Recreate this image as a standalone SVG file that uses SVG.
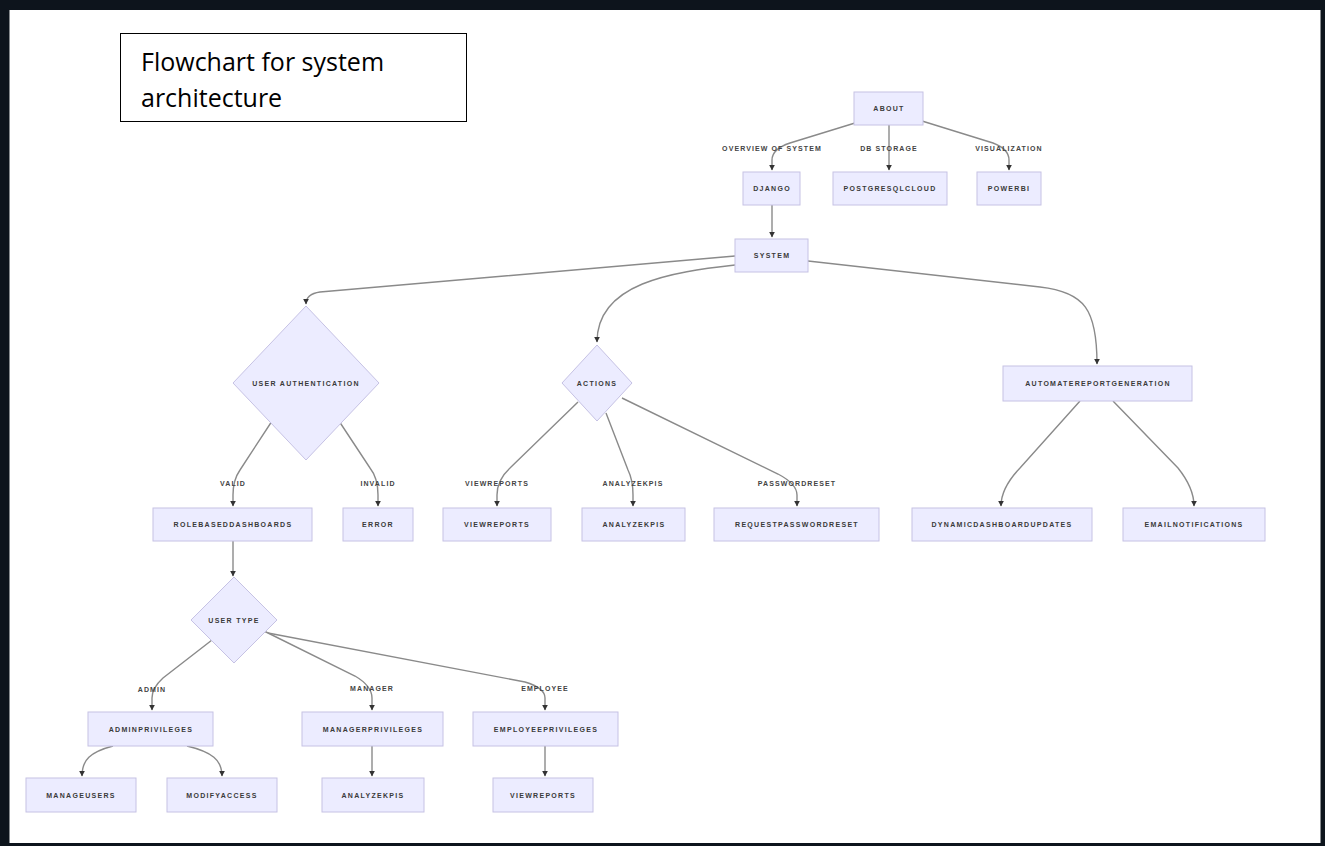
<svg xmlns="http://www.w3.org/2000/svg" width="1325" height="846" viewBox="0 0 1325 846">
<style>
.n{fill:#ECECFF;stroke:#c6c2e4;stroke-width:1}
.t{font-family:"Liberation Sans",Arial,sans-serif;font-size:7px;font-weight:bold;fill:#3a3a3a;letter-spacing:1.3px;text-anchor:middle;dominant-baseline:central}
.l{font-family:"Liberation Sans",Arial,sans-serif;font-size:7px;font-weight:bold;fill:#444;letter-spacing:1.1px;text-anchor:middle;dominant-baseline:central}
.e{fill:none;stroke:#8a8a8a;stroke-width:1.4;marker-end:url(#ah)}
.title{font-family:"Open Sans","Liberation Sans",sans-serif;font-size:25px;fill:#000}
</style>
<defs>
<marker id="ah" viewBox="0 0 10 10" refX="9" refY="5" markerWidth="6" markerHeight="6" markerUnits="userSpaceOnUse" orient="auto">
<path d="M0,0 L10,5 L0,10 z" fill="#333"/>
</marker>
</defs>
<rect x="0" y="0" width="1325" height="846" fill="#0d141c"/>
<rect x="9.5" y="10" width="1311" height="833" fill="#ffffff"/>

<g id="title">
<rect x="120.5" y="33.5" width="346" height="88" fill="#fff" stroke="#000" stroke-width="1"/>
<text class="title" x="141" y="71">Flowchart for system</text>
<text class="title" x="141" y="107">architecture</text>
</g>

<g id="connectors">
<path class="e" d="M855 123 L790 143 Q772 149 772 160 L772 170"/>
<path class="e" d="M889 125 L889 170"/>
<path class="e" d="M922 121 L993 143 Q1009 149 1009 160 L1009 170"/>
<path class="e" d="M772 205 L772 237"/>
<path class="e" d="M735 256 L320 292 Q306 294 306 304"/>
<path class="e" d="M735 265 C672 272 597 283 597 342"/>
<path class="e" d="M808 261 L1040 287 C1085 292 1097 310 1097 364"/>
<path class="e" d="M274 418 L240 470 Q233 480 233 495 L233 506"/>
<path class="e" d="M337 418 L370 468 Q378 478 378 495 L378 506"/>
<path class="e" d="M578 402 L510 468 Q497 480 497 495 L497 506"/>
<path class="e" d="M606 413 L628 470 Q633 480 633 495 L633 506"/>
<path class="e" d="M622 398 L778 474 Q797 484 797 495 L797 506"/>
<path class="e" d="M1080 401 L1020 468 Q1001 488 1001 506"/>
<path class="e" d="M1113 401 L1178 468 Q1194 488 1194 506"/>
<path class="e" d="M233 541 L233 576"/>
<path class="e" d="M212 640 L163 678 Q152 688 152 698 L152 710"/>
<path class="e" d="M262 630 L355 676 Q372 686 372 698 L372 710"/>
<path class="e" d="M268 633 L525 682 Q545 688 545 698 L545 710"/>
<path class="e" d="M113 746 C90 752 82 760 82 776"/>
<path class="e" d="M187 746 C212 752 222 760 222 776"/>
<path class="e" d="M372 746 L372 776"/>
<path class="e" d="M545 746 L545 776"/>
<text class="l" x="772" y="148">OVERVIEW OF SYSTEM</text>
<text class="l" x="889" y="148">DB STORAGE</text>
<text class="l" x="1009" y="148">VISUALIZATION</text>
<text class="l" x="233" y="483">VALID</text>
<text class="l" x="378" y="483">INVALID</text>
<text class="l" x="497" y="483">VIEWREPORTS</text>
<text class="l" x="633" y="483">ANALYZEKPIS</text>
<text class="l" x="797" y="483">PASSWORDRESET</text>
<text class="l" x="152" y="689">ADMIN</text>
<text class="l" x="372" y="688">MANAGER</text>
<text class="l" x="545" y="688">EMPLOYEE</text>
</g>

<g id="about"><rect class="n" x="854" y="92" width="69" height="33"/><text class="t" x="889" y="108.5">ABOUT</text></g>
<g id="django"><rect class="n" x="743" y="172" width="57" height="33"/><text class="t" x="772" y="188.5">DJANGO</text></g>
<g id="postgres"><rect class="n" x="833" y="172" width="114" height="33"/><text class="t" x="890" y="188.5">POSTGRESQLCLOUD</text></g>
<g id="powerbi"><rect class="n" x="977" y="172" width="64" height="33"/><text class="t" x="1009" y="188.5">POWERBI</text></g>
<g id="system"><rect class="n" x="735" y="239" width="73" height="33"/><text class="t" x="772" y="255.5">SYSTEM</text></g>
<g id="userauth"><path class="n" d="M306 306 L379 383 L306 460 L233 383 Z"/><text class="t" x="306" y="383">USER AUTHENTICATION</text></g>
<g id="actions"><path class="n" d="M597 345 L632 383 L597 421 L562 383 Z"/><text class="t" x="597" y="383">ACTIONS</text></g>
<g id="automate"><rect class="n" x="1003" y="366" width="189" height="35"/><text class="t" x="1098" y="383.5">AUTOMATEREPORTGENERATION</text></g>
<g id="rolebased"><rect class="n" x="153" y="508" width="159" height="33"/><text class="t" x="233" y="524.5">ROLEBASEDDASHBOARDS</text></g>
<g id="error"><rect class="n" x="343" y="508" width="70" height="33"/><text class="t" x="378" y="524.5">ERROR</text></g>
<g id="viewreports"><rect class="n" x="443" y="508" width="108" height="33"/><text class="t" x="497" y="524.5">VIEWREPORTS</text></g>
<g id="analyzekpis"><rect class="n" x="582" y="508" width="103" height="33"/><text class="t" x="634" y="524.5">ANALYZEKPIS</text></g>
<g id="requestpasswordreset"><rect class="n" x="714" y="508" width="165" height="33"/><text class="t" x="797" y="524.5">REQUESTPASSWORDRESET</text></g>
<g id="dynamic"><rect class="n" x="912" y="508" width="180" height="33"/><text class="t" x="1002" y="524.5">DYNAMICDASHBOARDUPDATES</text></g>
<g id="email"><rect class="n" x="1123" y="508" width="142" height="33"/><text class="t" x="1194" y="524.5">EMAILNOTIFICATIONS</text></g>
<g id="usertype"><path class="n" d="M234 577 L277 620 L234 663 L191 620 Z"/><text class="t" x="234" y="620">USER TYPE</text></g>
<g id="adminpriv"><rect class="n" x="88" y="712" width="125" height="34"/><text class="t" x="151" y="729">ADMINPRIVILEGES</text></g>
<g id="managerpriv"><rect class="n" x="302" y="712" width="141" height="34"/><text class="t" x="373" y="729">MANAGERPRIVILEGES</text></g>
<g id="employeepriv"><rect class="n" x="473" y="712" width="145" height="34"/><text class="t" x="546" y="729">EMPLOYEEPRIVILEGES</text></g>
<g id="manageusers"><rect class="n" x="26" y="778" width="110" height="34"/><text class="t" x="81" y="795">MANAGEUSERS</text></g>
<g id="modifyaccess"><rect class="n" x="167" y="778" width="110" height="34"/><text class="t" x="222" y="795">MODIFYACCESS</text></g>
<g id="analyzekpis2"><rect class="n" x="322" y="778" width="102" height="34"/><text class="t" x="373" y="795">ANALYZEKPIS</text></g>
<g id="viewreports2"><rect class="n" x="493" y="778" width="100" height="34"/><text class="t" x="543" y="795">VIEWREPORTS</text></g>
</svg>
